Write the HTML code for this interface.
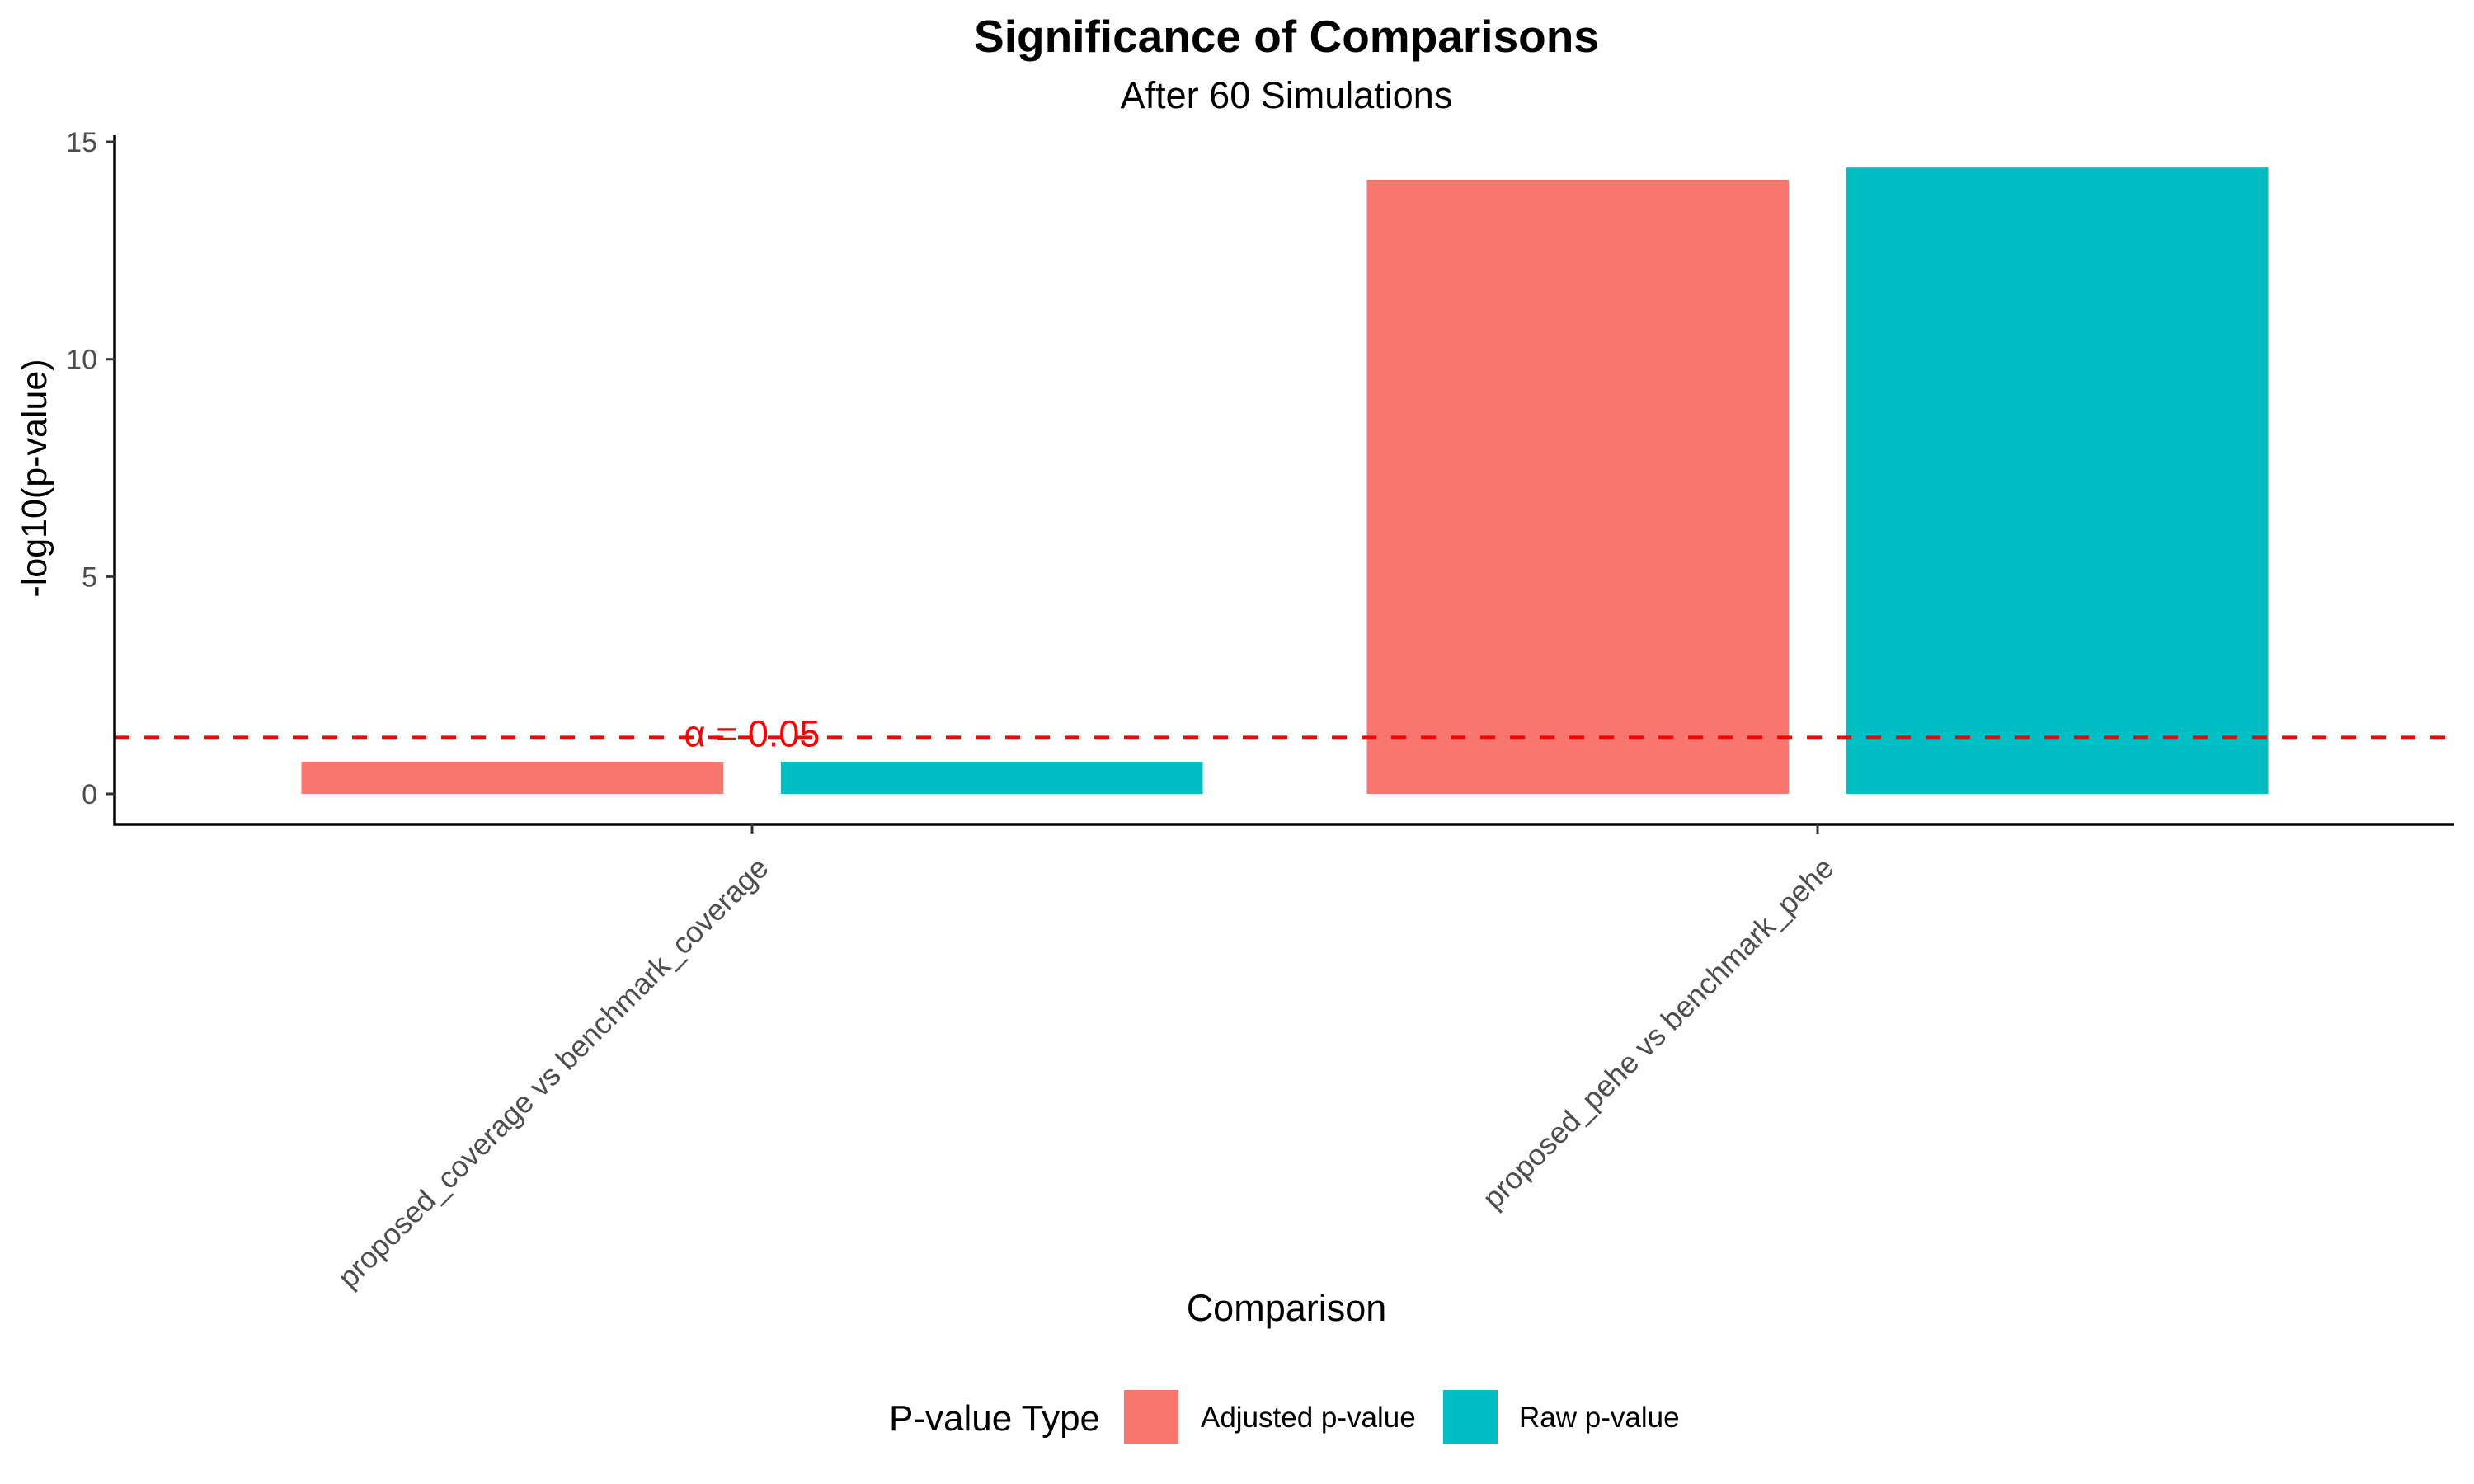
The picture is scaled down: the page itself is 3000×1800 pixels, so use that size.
<!DOCTYPE html>
<html><head><meta charset="utf-8"><style>
html,body{margin:0;padding:0;background:#fff;}
svg{display:block;font-family:"Liberation Sans",Arial,sans-serif;}
</style></head><body>
<svg id="chart" width="3000" height="1800" viewBox="0 0 3000 1800" xmlns="http://www.w3.org/2000/svg">
<text x="1560" y="63" font-size="55" font-weight="bold" text-anchor="middle">Significance of Comparisons</text>
<text x="1560" y="131" font-size="45" text-anchor="middle">After 60 Simulations</text>
<text transform="translate(56,580) rotate(-90)" font-size="43" text-anchor="middle">-log10(p-value)</text>
<text x="1560" y="1602" font-size="45" text-anchor="middle">Comparison</text>
<g id="plot"></g>
<g>
<text x="1078" y="1735" font-size="44">P-value Type</text>
<rect x="1363" y="1686" width="66" height="66" fill="#F8766D"/>
<text x="1456" y="1731" font-size="35">Adjusted p-value</text>
<rect x="1750" y="1686" width="66" height="66" fill="#00BFC4"/>
<text x="1842" y="1731" font-size="35">Raw p-value</text>
</g>
</svg>
<script>
const categories = ["proposed_coverage vs benchmark_coverage", "proposed_pehe vs benchmark_pehe"];
const adjustedValues = [0.74, 14.13];
const rawValues = [0.74, 14.41];
const yTicks = [0, 5, 10, 15];
const alphaLevel = 0.05;

const NS = "http://www.w3.org/2000/svg";
const plot = document.getElementById('plot');
const X0 = 139, X1 = 2976, Y0 = 963, PXU = 52.73;
const catStart = 912, catStep = 1292;
function yScale(v){ return Y0 - v * PXU; }
function xScale(i){ return catStart + i * catStep; }
function mk(tag, attrs){ const e = document.createElementNS(NS, tag); for (const k in attrs) e.setAttribute(k, attrs[k]); plot.appendChild(e); return e; }

const barW = 0.396 * catStep, offs = 0.225 * catStep;
const series = [[adjustedValues, "#F8766D", "adjusted"], [rawValues, "#00BFC4", "raw"]];
series.forEach(function(s, si){
  s[0].forEach(function(v, i){
    const cx = xScale(i) + (si === 0 ? -offs : offs);
    const r = mk('rect', {x: cx - barW/2, y: yScale(v), width: barW, height: yScale(0) - yScale(v), fill: s[1]});
    
    
  });
});

const thr = -Math.log10(alphaLevel);
const dl = mk('line', {x1: X0, x2: X1, y1: yScale(thr), y2: yScale(thr), stroke: "#FF0000", 'stroke-width': 4, 'stroke-dasharray': "18 18"});


const at = mk('text', {x: xScale(0), y: yScale(thr) + 11, 'font-size': 45, fill: "#FF0000", 'text-anchor': "middle"});
at.textContent = "\u03B1 = 0.05";



const ya = mk('line', {x1: X0, x2: X0, y1: 164, y2: 1001.5, stroke: "#000", 'stroke-width': 3.5});


const xa = mk('line', {x1: X0 - 1.5, x2: X1, y1: 1000, y2: 1000, stroke: "#000", 'stroke-width': 3.5});



yTicks.forEach(function(t){
  const tk = mk('line', {x1: X0 - 10, x2: X0, y1: yScale(t), y2: yScale(t), stroke: "#333", 'stroke-width': 3});
  
  
  const lb = mk('text', {x: 118, y: yScale(t) + 12, 'font-size': 34, fill: "#4d4d4d", 'text-anchor': "end"});
  lb.textContent = String(t);
  
  
});

categories.forEach(function(c, i){
  const x = xScale(i);
  const tk = mk('line', {x1: x, x2: x, y1: 1000, y2: 1011, stroke: "#333", 'stroke-width': 3});
  
  
  const lb = mk('text', {transform: 'translate(' + (x + 22) + ',1055) rotate(-45)', 'font-size': 36, fill: "#4d4d4d", 'text-anchor': "end"});
  lb.textContent = c;
  
  
});
</script>
</body></html>
